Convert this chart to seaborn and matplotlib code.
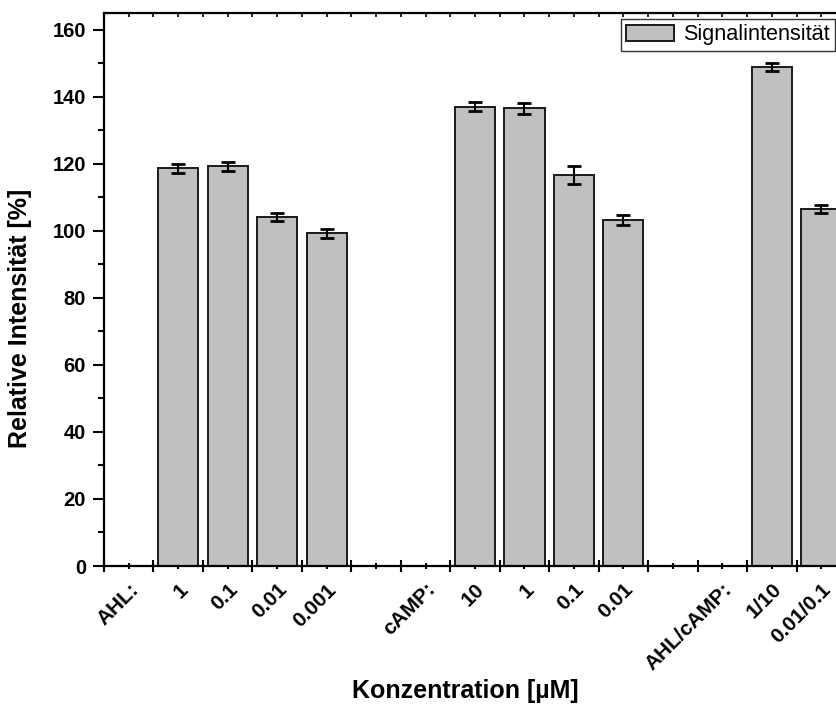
import numpy as np
import pandas as pd
import matplotlib
matplotlib.use('Agg')
import matplotlib.pyplot as plt
import seaborn as sns
from matplotlib.ticker import MultipleLocator

# Werte
ahl_conc = ['1', '0.1', '0.01', '0.001']
ahl_int = [118.7, 119.2, 104.1, 99.3]
ahl_err = [1.3, 1.2, 1.2, 1.4]

camp_conc = ['10', '1', '0.1', '0.01']
camp_int = [137.1, 136.6, 116.7, 103.1]
camp_err = [1.2, 1.6, 2.6, 1.5]

mix_conc = ['1/10', '0.01/0.1']
mix_int = [149.0, 106.5]
mix_err = [1.2, 1.2]

groups = [('AHL:', ahl_conc, ahl_int, ahl_err),
          ('cAMP:', camp_conc, camp_int, camp_err),
          ('AHL/cAMP:', mix_conc, mix_int, mix_err)]

# Tabelle + Reihenfolge der Kategorien (mit Kopf- und Leerplaetzen)
rows = []
order = []
tick_labels = []
for i, (head, conc, val, err) in enumerate(groups):
    order.append(head)
    tick_labels.append(head)
    for c, v, e in zip(conc, val, err):
        key = head + ' ' + c
        rows.append({'key': key, 'wert': v, 'fehler': e})
        order.append(key)
        tick_labels.append(c)
    if i < len(groups) - 1:
        order.append('gap%d' % i)
        tick_labels.append('')
df = pd.DataFrame(rows)

sns.set_style('ticks')
plt.rcParams['font.family'] = ['Liberation Sans', 'DejaVu Sans']
plt.rcParams.update({'text.color': 'black', 'axes.labelcolor': 'black',
                     'xtick.color': 'black', 'ytick.color': 'black'})

fig = plt.figure(figsize=(8.37, 7.07), dpi=100)
ax = fig.add_axes([104 / 837, 1 - 566 / 707, 742 / 837, 553 / 707])

sns.barplot(data=df, x='key', y='wert', order=order, color='#C0C0C0',
            saturation=1, width=0.81, edgecolor='#1a1a1a', linewidth=1.4,
            errorbar=None, label='Signalintensität', ax=ax)

xpos = [order.index(k) for k in df['key']]
ax.errorbar(xpos, df['wert'], yerr=df['fehler'], fmt='none', ecolor='black',
            elinewidth=1.5, capsize=4.7, capthick=2)

ax.set_xlim(-0.5, len(order) - 0.5)
ax.set_ylim(0, 165)

# Achsen / Ticks
for s in ['left', 'bottom', 'top']:
    ax.spines[s].set_linewidth(1.6)
    ax.spines[s].set_color('black')
ax.spines['right'].set_visible(False)

ax.yaxis.set_major_locator(MultipleLocator(20))
ax.yaxis.set_minor_locator(MultipleLocator(10))
ax.tick_params(axis='y', which='major', direction='out', length=8, width=1.5, pad=5, labelsize=14.5)
ax.tick_params(axis='y', which='minor', direction='out', length=4, width=1.5)

ax.set_xticks(range(len(order)))
ax.set_xticks(np.arange(-0.5, len(order), 1.0), minor=True)
ax.set_xticklabels(tick_labels, rotation=45, ha='right', rotation_mode='anchor')
ax.tick_params(axis='x', which='major', direction='inout', length=4, width=1.5, pad=8, labelsize=15)
ax.tick_params(axis='x', which='minor', direction='inout', length=9, width=1.5)

for lab in ax.get_xticklabels() + ax.get_yticklabels():
    lab.set_fontweight('bold')

top = ax.secondary_xaxis('top')
top.set_xticks(np.arange(-0.5, len(order), 0.5))
top.tick_params(direction='in', length=3, width=1.2, labeltop=False)
top.spines['top'].set_visible(False)

ax.set_xlabel('Konzentration [µM]', fontsize=18, fontweight='bold')
ax.set_ylabel('Relative Intensität [%]', fontsize=18, fontweight='bold')
ax.xaxis.set_label_coords(0.4865, -0.205)
ax.yaxis.set_label_coords(-0.097, 0.447)

leg = ax.legend(loc='upper left', bbox_to_anchor=(621 / 837, 1 - 19 / 707),
                bbox_transform=fig.transFigure, fontsize=15.6, frameon=True,
                fancybox=False, handlelength=2.2, handleheight=0.75,
                borderpad=0.25, handletextpad=0.4, borderaxespad=0)
leg.get_frame().set_edgecolor('black')
leg.get_frame().set_linewidth(1.0)

plt.savefig('out.png', dpi=100)
